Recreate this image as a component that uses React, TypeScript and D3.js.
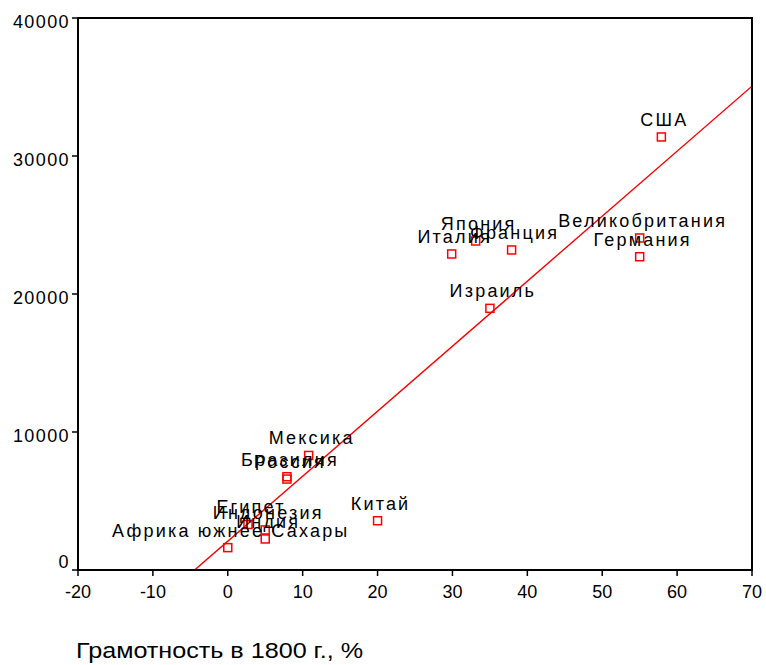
import React from "react";
import * as d3 from "d3";

const countries = [
  "США",
  "Япония",
  "Италия",
  "Франция",
  "Великобритания",
  "Германия",
  "Израиль",
  "Мексика",
  "Бразилия",
  "Россия",
  "Китай",
  "Египет",
  "Индонезия",
  "Индия",
  "Африка южнее Сахары",
];
const literacy = [57.9, 33.1, 29.9, 37.9, 55.0, 55.0, 35.0, 10.8, 7.9, 7.9, 20.0, 2.7, 5.0, 5.0, 0.0];
const gdp = [31380, 23840, 22900, 23190, 24060, 22700, 18960, 8300, 6760, 6590, 3570, 3300, 2900, 2250, 1620];

const xTicks = [-20, -10, 0, 10, 20, 30, 40, 50, 60, 70];
const yTicks = [0, 10000, 20000, 30000, 40000];
const xTitle = "Грамотность в 1800 г., %";

const W = 766;
const H = 665;
const L = 78;
const R = 752;
const T = 18;
const B = 570;

export default function App() {
  const x = d3.scaleLinear().domain([-20, 70]).range([L, R]);
  const y = d3.scaleLinear().domain([0, 40000]).range([B, T]);

  const n = literacy.length;
  const mx = d3.mean(literacy) as number;
  const my = d3.mean(gdp) as number;
  let sxy = 0;
  let sxx = 0;
  for (let i = 0; i < n; i++) {
    sxy += (literacy[i] - mx) * (gdp[i] - my);
    sxx += (literacy[i] - mx) * (literacy[i] - mx);
  }
  const slope = sxy / sxx;
  const intercept = my - slope * mx;
  const lineGen = d3
    .line<number>()
    .x((d) => x(d))
    .y((d) => y(intercept + slope * d));
  const fitPath = lineGen([-20, 70]) || "";

  const font = "'Liberation Sans', Arial, sans-serif";

  return (
    <svg
      width={W}
      height={H}
      viewBox={`0 0 ${W} ${H}`}
      style={{ position: "absolute", left: 0, top: 0, background: "#fff" }}
      fontFamily={font}
    >
      <defs>
        <clipPath id="plotClip">
          <rect x={L} y={T} width={R - L} height={B - T} />
        </clipPath>
      </defs>
      <rect x={0} y={0} width={W} height={H} fill="#fff" />

      {/* regression line */}
      <path d={fitPath} stroke="#ff0000" strokeWidth={1.4} fill="none" clipPath="url(#plotClip)" />

      {/* points */}
      {literacy.map((lv, i) => (
        <rect
          key={"p" + i}
          x={x(lv) - 4}
          y={y(gdp[i]) - 4}
          width={8}
          height={8}
          fill="none"
          stroke="#ff0000"
          strokeWidth={1.5}
        />
      ))}

      {/* labels */}
      {literacy.map((lv, i) => (
        <text
          key={"l" + i}
          x={x(lv) + 3}
          y={y(gdp[i]) - 11}
          textAnchor="middle"
          fontSize={18}
          letterSpacing={2.2}
          fill="#000"
        >
          {countries[i]}
        </text>
      ))}

      {/* frame */}
      <rect x={L} y={T} width={R - L} height={B - T} fill="none" stroke="#000" strokeWidth={2} />

      {/* y axis ticks */}
      {yTicks.map((t) => (
        <g key={"y" + t}>
          <line x1={L - 6} x2={L} y1={y(t)} y2={y(t)} stroke="#000" strokeWidth={1.5} />
          <text
            x={70}
            y={t === 0 ? y(t) - 2 : y(t) + 9.5}
            textAnchor="end"
            fontSize={18}
            letterSpacing={1.4}
            fill="#000"
          >
            {t}
          </text>
        </g>
      ))}

      {/* x axis ticks */}
      {xTicks.map((t) => (
        <g key={"x" + t}>
          <line x1={x(t)} x2={x(t)} y1={B} y2={B + 6} stroke="#000" strokeWidth={1.5} />
          <text x={x(t)} y={598} textAnchor="middle" fontSize={18} fill="#000">
            {t}
          </text>
        </g>
      ))}

      {/* x axis title */}
      <text
        x={76}
        y={658}
        fontSize={22}
        fill="#000"
        textLength={287}
        lengthAdjust="spacingAndGlyphs"
      >
        {xTitle}
      </text>
    </svg>
  );
}
